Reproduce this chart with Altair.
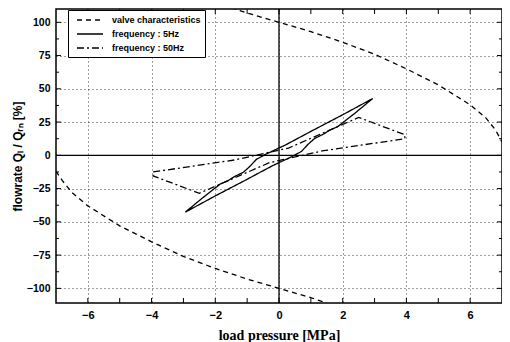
import altair as alt
import pandas as pd

# ---- data ----
series_names = ["valve characteristics", "frequency : 5Hz", "frequency : 50Hz"]

valve_upper_p = [-1.5, -1.0, -0.5, 0.0, 1.0, 2.0, 3.0, 4.0, 5.0, 6.0, 6.5, 6.8, 7.0]
valve_upper_q = [111, 107, 103.5, 100, 93, 85, 76, 65, 53, 38, 28, 19, 10]

valve_lower_p = [-7.0, -6.8, -6.5, -6.0, -5.0, -4.0, -3.0, -2.0, -1.0, 0.0, 1.0, 1.5]
valve_lower_q = [-12, -19, -28, -38, -53, -65, -76, -85, -93, -100, -107, -111]

hz5_p = [-2.94, -2.4, -1.84, -1.6, -1.4, -1.12, -0.9, -0.71, -0.4, 0.22, 1.0, 2.0, 2.94,
         2.4, 1.84, 1.6, 1.4, 1.12, 0.9, 0.71, 0.4, -0.22, -1.0, -2.0, -2.94]
hz5_q = [-42.7, -32, -21.5, -19, -16, -12.75, -8, -3, 1, 8, 18, 30.5, 42.7,
         32, 21.5, 19, 16, 12.75, 8, 3, -1, -8, -18, -30.5, -42.7]

hz50_p = [-3.95, -1.4, 0.3, 2.5, 3.95, 3.95, 1.4, -0.3, -2.5, -3.95, -3.95]
hz50_q = [-12.5, -3.5, 5.5, 28.5, 15.5, 12.5, 3.5, -5.5, -28.5, -15.5, -12.5]

x_major = [-6, -4, -2, 0, 2, 4, 6]
x_minor = [-5, -3, -1, 1, 3, 5]
y_major = [-100, -75, -50, -25, 0, 25, 50, 75, 100]
y_minor = [-87.5, -62.5, -37.5, -12.5, 12.5, 37.5, 62.5, 87.5]
zero_p = [0]
zero_q = [0]

W, H = 446, 294

rows = []
def add(series, branch, ps, qs):
    for i, (p, q) in enumerate(zip(ps, qs)):
        rows.append({"series": series, "branch": branch, "idx": i, "p": p, "q": q})

add(series_names[0], "upper", valve_upper_p, valve_upper_q)
add(series_names[0], "lower", valve_lower_p, valve_lower_q)
add(series_names[1], "5hz", hz5_p, hz5_q)
add(series_names[2], "50hz", hz50_p, hz50_q)
df = pd.DataFrame(rows)

xscale = alt.Scale(domain=[-7, 7], nice=False, zero=False)
yscale = alt.Scale(domain=[-111, 110], nice=False, zero=False)

grid_style = dict(grid=True, gridColor="black", gridDash=[1, 3], gridOpacity=0.75,
                  gridWidth=1, ticks=False, domain=False, labelOverlap=False,
                  tickCount=20, format="d",
                  labelFont="Liberation Sans", labelFontWeight="bold",
                  labelColor="black")

lines = alt.Chart(df).mark_line(clip=True, strokeWidth=1.3, color="black").encode(
    x=alt.X("p:Q", scale=xscale,
            axis=alt.Axis(values=x_major, title="load pressure [MPa]",
                          titleFont="Liberation Serif", titleFontWeight="bold",
                          titleFontSize=14, titleColor="black", titlePadding=8,
                          labelPadding=6, labelFontSize=11, **grid_style)),
    y=alt.Y("q:Q", scale=yscale,
            axis=alt.Axis(values=y_major, title="flowrate  Qₗ / Qᵣₙ [%]",
                          titleFont="Liberation Sans", titleFontWeight="bold",
                          titleFontSize=12, titleColor="black", titleX=-32,
                          labelPadding=6, labelFontSize=10.5, **grid_style)),
    strokeDash=alt.StrokeDash(
        "series:N",
        scale=alt.Scale(domain=series_names, range=[[5, 4], [1, 0], [7, 3, 2, 3]]),
        legend=alt.Legend(orient="none", legendX=12, legendY=1, title=None,
                          fillColor="white", strokeColor="black", padding=4,
                          labelFont="Liberation Sans", labelFontWeight="bold",
                          labelFontSize=9, labelColor="black", labelOffset=16,
                          symbolType="M-2.6,0L2.6,0", symbolSize=100,
                          symbolOffset=12, symbolStrokeWidth=1.3,
                          symbolStrokeColor="black", symbolFillColor="transparent",
                          rowPadding=3, cornerRadius=0)),
    detail="branch:N",
    order="idx:Q",
)

zx = alt.Chart(pd.DataFrame({"p": zero_p})).mark_rule(color="black", strokeWidth=1.3).encode(
    x=alt.X("p:Q", scale=xscale))
zy = alt.Chart(pd.DataFrame({"q": zero_q})).mark_rule(color="black", strokeWidth=1.3).encode(
    y=alt.Y("q:Q", scale=yscale))

def xticks(vals, length):
    d = pd.DataFrame({"p": vals})
    b = alt.Chart(d).mark_rule(color="black", strokeWidth=1).encode(
        x=alt.X("p:Q", scale=xscale), y=alt.value(H), y2=alt.value(H - length))
    t = alt.Chart(d).mark_rule(color="black", strokeWidth=1).encode(
        x=alt.X("p:Q", scale=xscale), y=alt.value(0), y2=alt.value(length))
    return [b, t]

def yticks(vals, length):
    d = pd.DataFrame({"q": vals})
    l = alt.Chart(d).mark_rule(color="black", strokeWidth=1).encode(
        y=alt.Y("q:Q", scale=yscale), x=alt.value(0), x2=alt.value(length))
    r = alt.Chart(d).mark_rule(color="black", strokeWidth=1).encode(
        y=alt.Y("q:Q", scale=yscale), x=alt.value(W), x2=alt.value(W - length))
    return [l, r]

layers = [lines, zx, zy] + xticks(x_major, 5) + xticks(x_minor, 5) + yticks(y_major, 5) + yticks(y_minor, 3)

chart = alt.layer(*layers).properties(
    width=W, height=H,
    autosize=alt.AutoSizeParams(type="none"),
    padding={"left": 48, "top": 1, "right": 0, "bottom": 39},
    background="white",
).configure_view(stroke="black", strokeWidth=1.5).configure_axis(labelOverlap=False)

chart.save("out.html", embed_options={"renderer": "svg", "actions": False})
